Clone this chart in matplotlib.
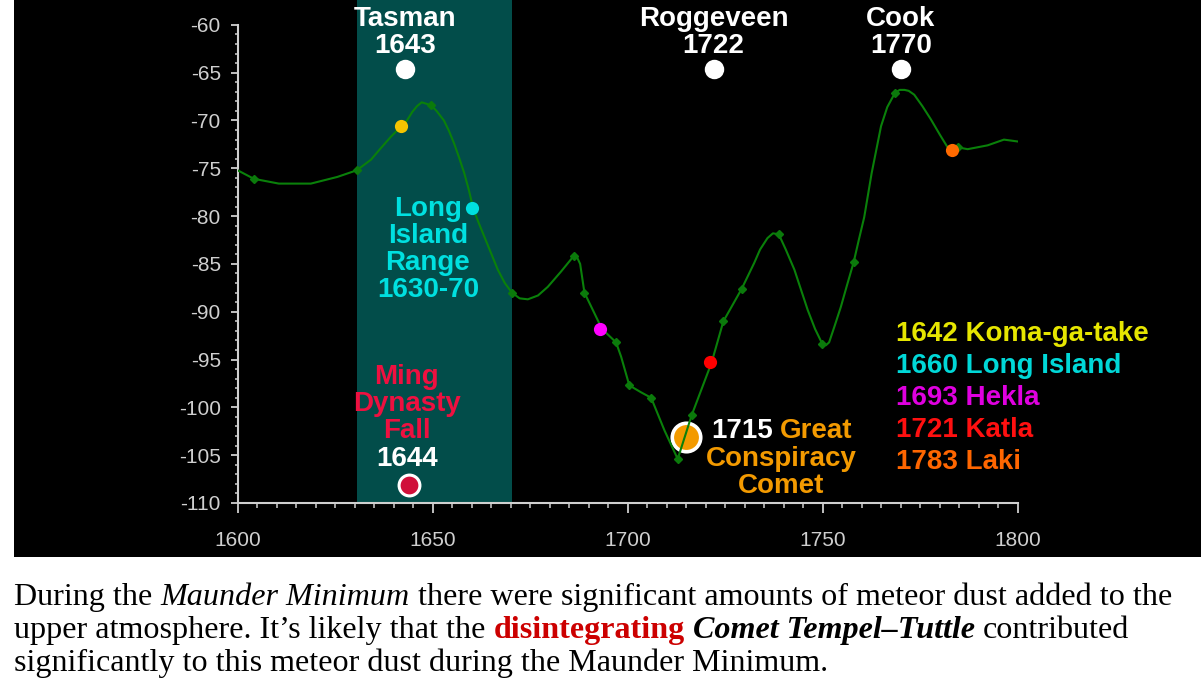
import numpy as np
import matplotlib
matplotlib.use("Agg")
import matplotlib.pyplot as plt
from matplotlib.patches import Rectangle
from matplotlib.ticker import FixedLocator

plt.rcParams["axes.unicode_minus"] = False

W, H = 1201, 681

# ---- data ----
trace_years = [1600.0, 1604.2, 1610.6, 1618.8, 1625.6, 1630.6, 1634.2, 1636.5, 1639.3, 1641.0,
               1642.5, 1644.8, 1646.0, 1647.2, 1649.6, 1651.0, 1652.9, 1654.2, 1655.5, 1656.8,
               1658.1, 1659.3, 1660.4, 1661.8, 1663.2, 1665.0, 1666.7, 1668.5, 1670.3, 1672.3,
               1674.4, 1677.0, 1679.5, 1681.2, 1682.9, 1684.5, 1686.1, 1687.0, 1687.8, 1688.9,
               1693.4, 1697.0, 1698.3, 1700.4, 1703.3, 1706.0, 1709.4, 1712.8, 1716.4, 1721.5,
               1724.5, 1729.2, 1732.4, 1733.9, 1735.8, 1737.2, 1738.7, 1740.5, 1742.7, 1744.4,
               1746.1, 1748.0, 1749.9, 1750.8, 1751.6, 1753.0, 1754.6, 1756.2, 1757.9, 1759.2,
               1760.6, 1762.5, 1764.9, 1766.5, 1768.5, 1769.7, 1770.9, 1772.0, 1773.4, 1775.5,
               1777.7, 1780.0, 1782.4, 1784.5, 1787.1, 1792.2, 1796.4, 1800.0]
trace_values = [-75.2, -76.1, -76.6, -76.6, -75.9, -75.2, -74.1, -73.0, -71.7, -71.0,
                -70.6, -69.1, -68.5, -68.1, -68.4, -69.0, -70.0, -71.1, -72.4, -73.9,
                -75.5, -77.3, -79.2, -80.7, -82.1, -83.9, -85.6, -87.0, -88.0, -88.6,
                -88.7, -88.3, -87.4, -86.6, -85.8, -85.0, -84.2, -84.3, -85.0, -88.0,
                -91.8, -93.2, -94.7, -97.7, -98.4, -99.0, -102.4, -105.4, -100.8, -95.3,
                -91.0, -87.6, -84.9, -83.5, -82.3, -81.8, -81.9, -83.5, -85.6, -87.7,
                -89.8, -91.8, -93.4, -93.5, -93.2, -91.5, -89.5, -87.2, -84.8, -82.5,
                -80.1, -75.5, -70.6, -68.6, -67.1, -66.8, -66.8, -66.9, -67.3, -68.5,
                -69.9, -71.5, -73.1, -72.8, -73.0, -72.6, -72.0, -72.2]

marker_years = [1604.2, 1630.6, 1649.6, 1670.3, 1686.1, 1688.9, 1697.0, 1700.4, 1706.0,
                1712.8, 1716.4, 1724.5, 1729.2, 1738.7, 1749.9, 1757.9, 1768.5, 1784.5]
marker_values = [-76.1, -75.2, -68.4, -88.0, -84.2, -88.0, -93.2, -97.7, -99.0,
                 -105.4, -100.8, -91.0, -87.6, -81.9, -93.4, -84.8, -67.1, -72.8]

volcano_years = [1642, 1660, 1693, 1721, 1783]
volcano_values = [-70.6, -79.2, -91.8, -95.3, -73.1]
volcano_names = ["Koma-ga-take", "Long Island", "Hekla", "Katla", "Laki"]
volcano_dot_colors = ["#f5c400", "#00e0e0", "#ff00ff", "#ff0000", "#ff6a00"]
volcano_text_colors = ["#e6e600", "#00d8d8", "#e000e0", "#ff1010", "#ff6600"]

explorer_names = ["Tasman", "Roggeveen", "Cook"]
explorer_years = [1643, 1722, 1770]
explorer_value = -64.6

ming_year, ming_value = 1644, -108.1
comet_year, comet_value = 1715, -103.1
band_start, band_end = 1630.5, 1670.3

x_ticks = [1600, 1650, 1700, 1750, 1800]
y_ticks = [-60, -65, -70, -75, -80, -85, -90, -95, -100, -105, -110]
y_tick_labels = ["-60", "-65", "-70", "-75", "-80", "-85", "-90", "-95", "-100", "-105", "-110"]

caption = [
    [("During the", "reg"), ("Maunder Minimum", "it"),
     ("there were significant amounts of meteor dust added to the", "reg")],
    [("upper atmosphere. It\u2019s likely that the", "reg"), ("disintegrating", "red"),
     ("Comet Tempel\u2013Tuttle", "bi"), ("contributed", "reg")],
    [("significantly to this meteor dust during the Maunder Minimum.", "reg")],
]

# ---- figure ----
fig = plt.figure(figsize=(W / 100, H / 100), dpi=100, facecolor="white")
fig.add_artist(Rectangle((14 / W, 124 / H), 1187 / W, 557 / H, transform=fig.transFigure,
                         facecolor="black", edgecolor="none", zorder=0))

ax = fig.add_axes([237.5 / W, 178 / H, 780.5 / W, 503 / H])
ax.set_facecolor("none")
ax.set_xlim(1600, 1800)
ax.set_ylim(-110, -57.4)

grey = "#cfcfcf"
for side in ("top", "right"):
    ax.spines[side].set_visible(False)
for side in ("left", "bottom"):
    ax.spines[side].set_color(grey)
    ax.spines[side].set_linewidth(1.5)
ax.spines["left"].set_bounds(-110, -60)

ax.set_xticks(x_ticks)
ax.xaxis.set_minor_locator(FixedLocator(np.arange(1600, 1801, 5)))
ax.set_yticks(y_ticks)
ax.set_yticklabels(y_tick_labels)
ax.yaxis.set_minor_locator(FixedLocator(np.arange(-110, -59, 1)))
ax.tick_params(axis="x", which="major", length=7, width=1.3, color=grey, pad=13,
               labelcolor=grey)
ax.tick_params(axis="x", which="minor", length=3.6, width=1.1, color=grey)
ax.tick_params(axis="y", which="major", length=5, width=1.3, color=grey, pad=7,
               labelcolor=grey)
ax.tick_params(axis="y", which="minor", length=2.5, width=1.1, color=grey)
for lab in ax.get_xticklabels() + ax.get_yticklabels():
    lab.set_fontfamily(["Liberation Sans Narrow", "Liberation Sans"])
    lab.set_fontsize(15)

ax.axvspan(band_start, band_end, color="#024d4a", zorder=0, lw=0)

# comet circle sits under the curve
ax.plot(comet_year, comet_value, "o", ms=20.5, mfc="#f39a00", mec="white", mew=2.6, zorder=2)
ax.plot(trace_years, trace_values, color="#0a800a", lw=1.5, zorder=3)
ax.plot(marker_years, marker_values, "D", ms=4, color="#0b7a0b", zorder=4)

for yr, val, c in zip(volcano_years, volcano_values, volcano_dot_colors):
    ax.plot(yr, val, "o", ms=9.5, color=c, mec="none", zorder=5)
for yr in explorer_years:
    ax.plot(yr, explorer_value, "o", ms=14, color="white", mec="none", zorder=5)
ax.plot(ming_year, ming_value, "o", ms=15, mfc="#d0103a", mec="white", mew=2.2, zorder=5)

bold = dict(family="Liberation Sans", weight="bold", fontsize=20, linespacing=1.05)
for name, yr in zip(explorer_names, explorer_years):
    ax.text(yr, -60.75, f"{name}\n{yr}", color="white", ha="center", va="center", **bold)

ax.text(1648.8, -83.5, "Long\nIsland\nRange\n1630-70", color="#00e0e0",
        ha="center", va="center", **bold)
ax.text(1643.4, -99.6, "Ming\nDynasty\nFall", color="#ee1040", ha="center", va="center", **bold)
ax.text(1643.4, -105.4, str(ming_year), color="white", ha="center", va="center", **bold)

ax.text(1721.5, -102.5, str(comet_year), color="white", ha="left", va="center", **bold)
ax.text(1739.0, -102.5, "Great", color="#f39a00", ha="left", va="center", **bold)
ax.text(1739.3, -106.8, "Conspiracy\nComet", color="#f39a00", ha="center", va="center", **bold)

legend_y = [-92.3, -95.7, -99.0, -102.4, -105.7]
for yr, name, c, ly in zip(volcano_years, volcano_names, volcano_text_colors, legend_y):
    ax.text(1768.7, ly, f"{yr} {name}", color=c, ha="left", va="center", **bold)

# ---- caption below the chart, built run by run ----
renderer = fig.canvas.get_renderer()
styles = {
    "reg": dict(color="black"),
    "it": dict(color="black", style="italic"),
    "red": dict(color="#cc0000", weight="bold"),
    "bi": dict(color="black", weight="bold", style="italic"),
}
cap_size = 23.1
serif = "Liberation Serif"
probe1 = fig.text(0, 0, "x x", fontsize=cap_size, family=serif)
probe2 = fig.text(0, 0, "xx", fontsize=cap_size, family=serif)
space_w = probe1.get_window_extent(renderer).width - probe2.get_window_extent(renderer).width
probe1.remove()
probe2.remove()

baselines = [605, 638, 671]
for runs, base in zip(caption, baselines):
    x = 14
    for i, (txt, st) in enumerate(runs):
        if i:
            x += space_w
        t = fig.text(x / W, 1 - base / H, txt, fontsize=cap_size, family=serif,
                     ha="left", va="baseline", **styles[st])
        x += t.get_window_extent(renderer).width

fig.savefig("out.png", dpi=100, facecolor="white")
